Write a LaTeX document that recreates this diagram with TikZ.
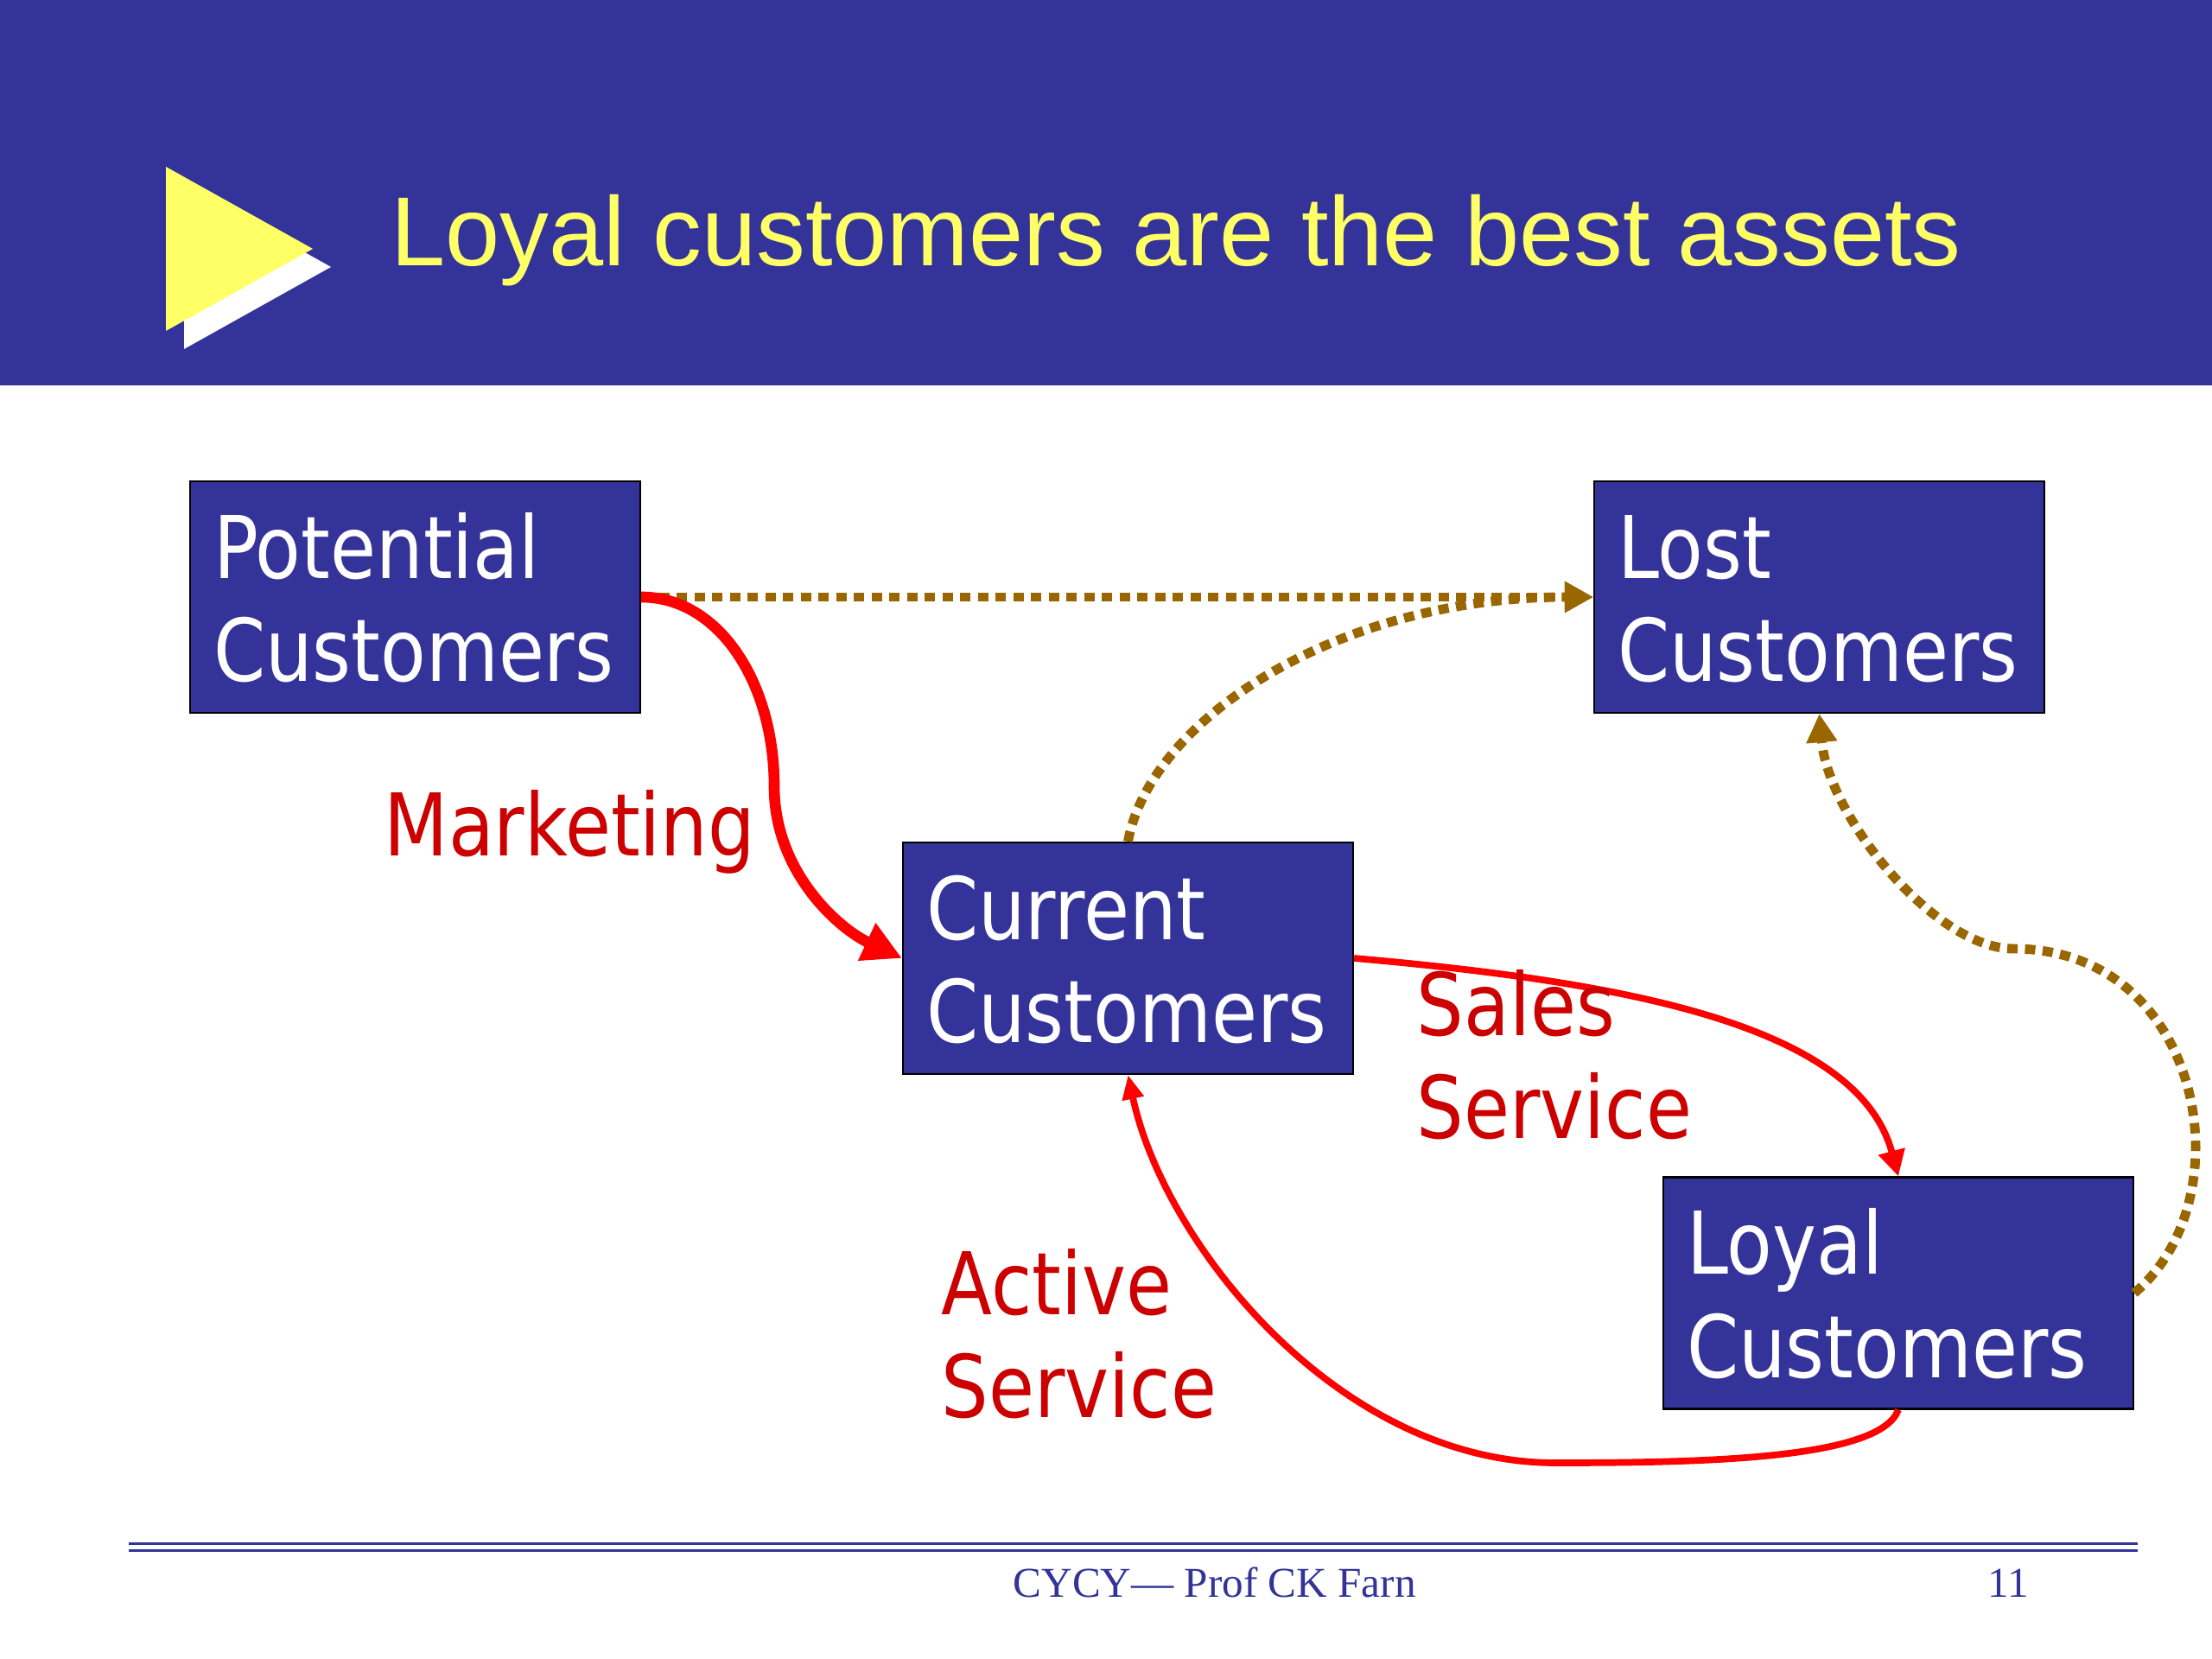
\documentclass[tikz,border=0pt]{standalone}
\usepackage{fontspec}
\usepackage{tikz}
\usetikzlibrary{arrows.meta,calc,positioning}
\definecolor{slideblue}{HTML}{333399}
\definecolor{slideyellow}{HTML}{FFFF66}
\definecolor{lossbrown}{HTML}{996600}
\definecolor{labelred}{HTML}{CC0000}
\newfontfamily\titlefont{Liberation Sans}
\newfontfamily\boxfont[FakeStretch=0.86]{DejaVu Sans}
\newfontfamily\footfont{Liberation Serif}

\begin{document}
\begin{tikzpicture}[
  custbox/.style={draw=black,line width=0.6pt,fill=slideblue,text=white,
    font=\boxfont\fontsize{28.5}{33.9}\selectfont,align=left,
    text width=4.67cm,inner xsep=0.27cm,minimum height=2.68cm,
    text height=0.76cm,text depth=1.19cm},
  flowlabel/.style={text=labelred,font=\boxfont\fontsize{28.5}{33.9}\selectfont,
    align=left,inner sep=0pt},
  redflow/.style={draw=red,line width=2.2pt,-{Triangle[length=0.3cm,width=0.3cm]}},
  lossflow/.style={draw=lossbrown,line width=3.1pt,dash pattern=on 0.12cm off 0.085cm,
    -{Triangle[length=0.33cm,width=0.34cm]}},
  footrule/.style={draw=slideblue,line width=0.85pt}
]
\fill[white] (0,0) rectangle (25.6,19.2);
\useasboundingbox (0,0) rectangle (25.6,19.2);

\fill[slideblue] (0,14.74) rectangle (25.6,19.2);
\fill[white] (2.13,17.06) -- (3.83,16.11) -- (2.13,15.16) -- cycle;
\fill[slideyellow] (1.92,17.27) -- (3.62,16.32) -- (1.92,15.37) -- cycle;
\node[anchor=base west,inner sep=0pt,text=slideyellow,
  font=\titlefont\fontsize{32.3}{38}\selectfont] (title) at (4.52,16.12)
  {Loyal customers are the best assets};

\node[custbox] (pot) at (4.805,12.29) {Potential\\Customers};
\node[custbox] (lost) at (21.055,12.29) {Lost\\Customers};
\node[custbox] (cur) at (13.055,8.11) {Current\\Customers};
\node[custbox,text width=4.9cm] (loyal) at (21.97,4.235) {Loyal\\Customers};

\coordinate (mkt) at (8.96,10.1);
\coordinate (lr) at (23.3,8.22);
\coordinate (ab) at (18.0,2.27);

\draw[lossflow] (pot) -- (lost);
\draw[lossflow] (cur.north) .. controls +(80:1.4) and +(-3,0) .. (lost.west);
\draw[lossflow] (loyal.east) .. controls +(40:1.7) and +(2.2,0) .. (lr)
  .. controls +(-0.9,0) and +(-85:1.2) .. (lost.south);

\draw[redflow,line width=3.6pt,-{Triangle[length=0.45cm,width=0.45cm]}] (pot.east)
  .. controls +(0.9,0) and +(0,1.2) .. (mkt)
  .. controls +(0,-1.0) and +(155:0.8) .. (cur.west);
\draw[redflow] (cur.east) .. controls +(-5:3.2) and +(105:1.8) .. (loyal.north);
\draw[redflow,-{Triangle[length=0.28cm,width=0.24cm]}] (loyal.south)
  .. controls +(-110:0.6) and +(1.8,0) .. (ab)
  .. controls +(-2.5,0) and +(-78:2.0) .. (cur.south);

\node[flowlabel,anchor=base west] (mkttext) at (4.44,9.29) {Marketing};
\node[flowlabel,anchor=base west] (salestext) at (16.39,6.02) {Sales\\Service};
\node[flowlabel,anchor=base west] (activetext) at (10.89,2.79) {Active\\Service};

\draw[footrule] (1.49,1.33) -- (24.74,1.33);
\draw[footrule] (1.49,1.25) -- (24.74,1.25);
\node[anchor=base west,inner sep=0pt,text=slideblue,
  font=\footfont\fontsize{14}{17}\selectfont] (credit) at (11.72,0.71) {CYCY— Prof CK Farn};
\node[anchor=base west,inner sep=0pt,text=slideblue,
  font=\footfont\fontsize{14}{17}\selectfont] (pagenum) at (23.0,0.71) {11};
\end{tikzpicture}
\end{document}
